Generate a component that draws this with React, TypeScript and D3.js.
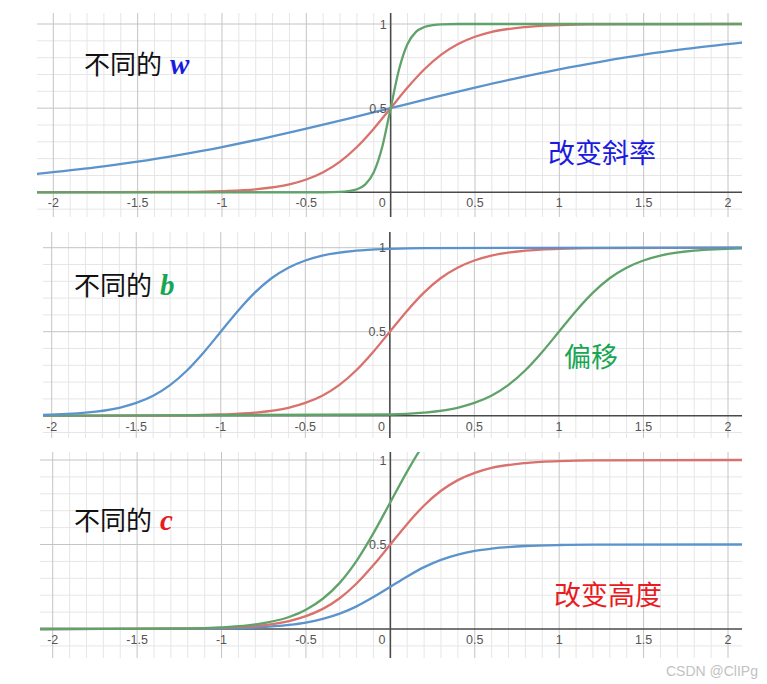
import React from "react";
import * as d3 from "d3";

const wBlueX = [-2.1, -1.75, -1.5, -1.25, -1, -0.75, -0.5, -0.25, 0, 0.25, 0.5, 0.75, 1, 1.25, 1.5, 1.75, 2.1];
const wBlueY = [0.109, 0.148, 0.182, 0.223, 0.269, 0.321, 0.378, 0.438, 0.5, 0.562, 0.622, 0.679, 0.731, 0.777, 0.818, 0.852, 0.891];
const wRedX = [-2.1, -1.2, -1, -0.8, -0.6, -0.5, -0.4, -0.3, -0.2, -0.1, 0, 0.1, 0.2, 0.3, 0.4, 0.5, 0.6, 0.8, 1, 1.2, 2.1];
const wRedY = [0, 0.002, 0.007, 0.018, 0.047, 0.076, 0.119, 0.182, 0.269, 0.378, 0.5, 0.622, 0.731, 0.818, 0.881, 0.924, 0.953, 0.982, 0.993, 0.998, 1];
const wGreenX = [-2.1, -0.4, -0.3, -0.25, -0.2, -0.15, -0.1, -0.05, 0, 0.05, 0.1, 0.15, 0.2, 0.25, 0.3, 0.4, 2.1];
const wGreenY = [0, 0, 0.002, 0.007, 0.018, 0.047, 0.119, 0.269, 0.5, 0.731, 0.881, 0.953, 0.982, 0.993, 0.998, 1, 1];

const bBlueX = [-2.1, -1.8, -1.6, -1.5, -1.4, -1.3, -1.2, -1.1, -1, -0.9, -0.8, -0.7, -0.6, -0.5, -0.4, -0.2, 0, 0.2, 2.1];
const bBlueY = [0.004, 0.018, 0.047, 0.076, 0.119, 0.182, 0.269, 0.378, 0.5, 0.622, 0.731, 0.818, 0.881, 0.924, 0.953, 0.982, 0.993, 0.998, 1];
const bRedX = [-2.1, -1.2, -1, -0.8, -0.6, -0.5, -0.4, -0.3, -0.2, -0.1, 0, 0.1, 0.2, 0.3, 0.4, 0.5, 0.6, 0.8, 1, 1.2, 2.1];
const bRedY = [0, 0.002, 0.007, 0.018, 0.047, 0.076, 0.119, 0.182, 0.269, 0.378, 0.5, 0.622, 0.731, 0.818, 0.881, 0.924, 0.953, 0.982, 0.993, 0.998, 1];
const bGreenX = [-2.1, 0, 0.2, 0.4, 0.5, 0.6, 0.7, 0.8, 0.9, 1, 1.1, 1.2, 1.3, 1.4, 1.5, 1.6, 1.8, 2.1];
const bGreenY = [0, 0.007, 0.018, 0.047, 0.076, 0.119, 0.182, 0.269, 0.378, 0.5, 0.622, 0.731, 0.818, 0.881, 0.924, 0.953, 0.982, 0.996];

const cX = [-2.1, -1.2, -1, -0.8, -0.6, -0.5, -0.4, -0.3, -0.2, -0.1, 0, 0.1, 0.2, 0.3, 0.4, 0.5, 0.6, 0.8, 1, 1.2, 2.1];
const cBlueY = [0, 0.001, 0.003, 0.009, 0.024, 0.038, 0.06, 0.091, 0.134, 0.189, 0.25, 0.311, 0.366, 0.409, 0.44, 0.462, 0.476, 0.491, 0.497, 0.499, 0.5];
const cRedY = [0, 0.002, 0.007, 0.018, 0.047, 0.076, 0.119, 0.182, 0.269, 0.378, 0.5, 0.622, 0.731, 0.818, 0.881, 0.924, 0.953, 0.982, 0.993, 0.998, 1];
const cGreenY = [0, 0.003, 0.01, 0.027, 0.071, 0.114, 0.179, 0.273, 0.403, 0.567, 0.75, 0.933, 1.097, 1.227, 1.321, 1.386, 1.429, 1.473, 1.49, 1.497, 1.5];

const xTicks = [-2, -1.5, -1, -0.5, 0, 0.5, 1, 1.5, 2];
const yTicks = [0.5, 1];

const BLUE = "#5b93cc";
const RED = "#d9716c";
const GREEN = "#5fa36b";

const panels = [
  {
    box: [37, 13, 742, 217], x0: 53.3, x2: 728, y0: 192.3, y1: 24,
    curves: [
      { xs: wBlueX, ys: wBlueY, color: BLUE },
      { xs: wRedX, ys: wRedY, color: RED },
      { xs: wGreenX, ys: wGreenY, color: GREEN },
    ],
    title: "w", titleColor: "#1a1ae0", titlePos: [84, 74],
    note: "改变斜率", notePos: [548, 163],
  },
  {
    box: [43, 232, 742, 438], x0: 51.7, x2: 728, y0: 415.7, y1: 247.7,
    curves: [
      { xs: bRedX, ys: bRedY, color: RED },
      { xs: bGreenX, ys: bGreenY, color: GREEN },
      { xs: bBlueX, ys: bBlueY, color: BLUE },
    ],
    title: "b", titleColor: "#17a653", titlePos: [74, 295],
    note: "偏移", notePos: [564, 367],
  },
  {
    box: [40, 452, 742, 658], x0: 52.7, x2: 728, y0: 629, y1: 460,
    curves: [
      { xs: cX, ys: cBlueY, color: BLUE },
      { xs: cX, ys: cRedY, color: RED },
      { xs: cX, ys: cGreenY, color: GREEN },
    ],
    title: "c", titleColor: "#e81a22", titlePos: [74, 530],
    note: "改变高度", notePos: [554, 605],
  },
];

const fmt = (v: number) => String(v);

function Panel({ p, idx }: { p: any; idx: number }) {
  const [left, top, right, bottom] = p.box;
  const x = d3.scaleLinear().domain([-2, 2]).range([p.x0, p.x2]);
  const y = d3.scaleLinear().domain([0, 1]).range([p.y0, p.y1]);
  const xMin = Math.ceil(x.invert(left) * 10), xMax = Math.floor(x.invert(right) * 10);
  const yMin = Math.ceil(y.invert(bottom) * 10), yMax = Math.floor(y.invert(top) * 10);
  const xs = d3.range(xMin, xMax + 1);
  const ys = d3.range(yMin, yMax + 1);
  const line = d3.line<[number, number]>()
    .x(d => x(d[0]))
    .y(d => y(d[1]))
    .curve(d3.curveMonotoneX);
  const clipId = `clip${idx}`;
  const labelFont = { fontFamily: "Arial, 'Liberation Sans', sans-serif", fontSize: 12.5, fill: "#555" };
  return (
    <g>
      <defs>
        <clipPath id={clipId}>
          <rect x={left} y={top} width={right - left} height={bottom - top} />
        </clipPath>
      </defs>
      <rect x={left} y={top} width={right - left} height={bottom - top} fill="#fff" />
      <g clipPath={`url(#${clipId})`}>
        {xs.filter(i => i % 5 !== 0).map(i => (
          <line key={"xm" + i} x1={x(i / 10)} x2={x(i / 10)} y1={top} y2={bottom} stroke="#e6e6e6" strokeWidth={1} />
        ))}
        {ys.filter(i => i % 5 !== 0).map(i => (
          <line key={"ym" + i} y1={y(i / 10)} y2={y(i / 10)} x1={left} x2={right} stroke="#e6e6e6" strokeWidth={1} />
        ))}
        {xs.filter(i => i % 5 === 0 && i !== 0).map(i => (
          <line key={"xM" + i} x1={x(i / 10)} x2={x(i / 10)} y1={top} y2={bottom} stroke="#c4c4c4" strokeWidth={1} />
        ))}
        {ys.filter(i => i % 5 === 0 && i !== 0).map(i => (
          <line key={"yM" + i} y1={y(i / 10)} y2={y(i / 10)} x1={left} x2={right} stroke="#c4c4c4" strokeWidth={1} />
        ))}
        <line x1={x(0)} x2={x(0)} y1={top} y2={bottom} stroke="#4a4a4a" strokeWidth={1.6} />
        <line y1={y(0)} y2={y(0)} x1={left} x2={right} stroke="#4a4a4a" strokeWidth={1.6} />
        {p.curves.map((c: any, k: number) => (
          <path key={k} d={line(c.xs.map((v: number, j: number) => [v, c.ys[j]]) as [number, number][]) || ""}
            fill="none" stroke={c.color} strokeWidth={2.3} strokeLinejoin="round" />
        ))}
        {xTicks.map(t => (
          <text key={"xt" + t} x={t === 0 ? x(0) - 5 : x(t)} y={y(0) + 15}
            textAnchor={t === 0 ? "end" : "middle"} {...labelFont}>{fmt(t)}</text>
        ))}
        {yTicks.map(t => (
          <text key={"yt" + t} x={x(0) - 4} y={y(t) + 4.5} textAnchor="end" {...labelFont}>{fmt(t)}</text>
        ))}
      </g>
      <text x={p.titlePos[0]} y={p.titlePos[1]} fontFamily="'Noto Sans CJK SC', sans-serif" fontSize={26} fill="#111">
        不同的
        <tspan dx={8} fontFamily="'Liberation Serif', serif" fontStyle="italic" fontWeight="bold" fontSize={29} fill={p.titleColor}>{p.title}</tspan>
      </text>
      <text x={p.notePos[0]} y={p.notePos[1]} fontFamily="'Noto Sans CJK SC', sans-serif" fontSize={27} fill={p.titleColor}>{p.note}</text>
    </g>
  );
}

export default function App() {
  return (
    <svg width={767} height={684} style={{ position: "absolute", left: 0, top: 0, background: "#fff" }}>
      <rect width={767} height={684} fill="#fff" />
      {panels.map((p, i) => <Panel key={i} p={p} idx={i} />)}
      <text x={758} y={676} textAnchor="end" fontFamily="Arial, 'Liberation Sans', sans-serif" fontSize={14} fill="#c2c2c2">CSDN @ClIPg</text>
    </svg>
  );
}
